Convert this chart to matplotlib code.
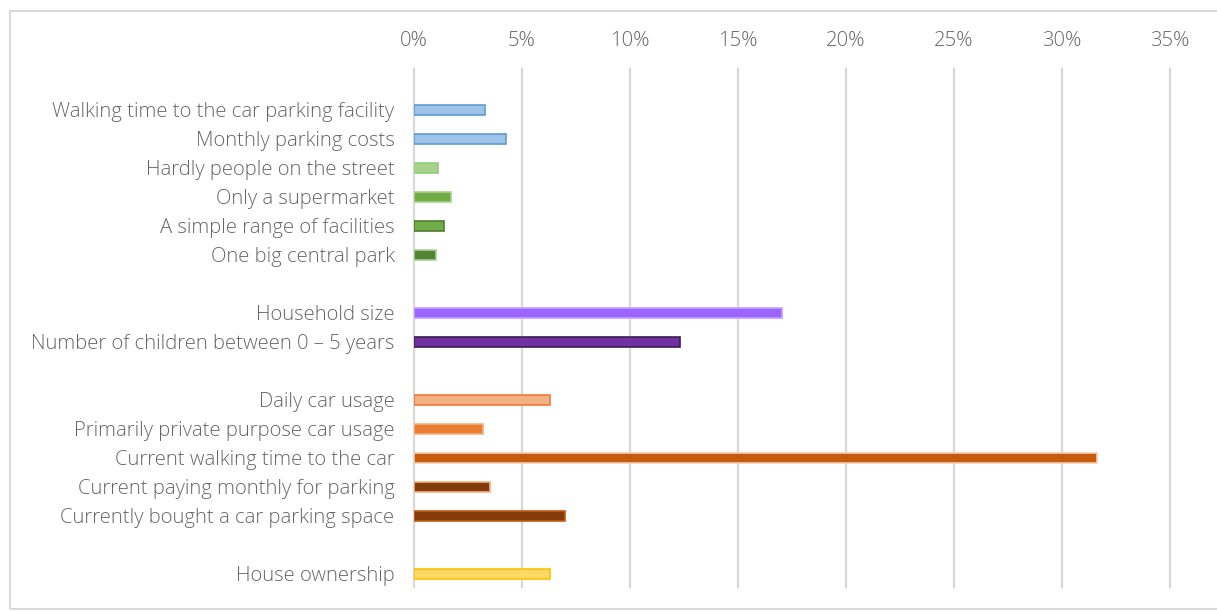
import matplotlib
matplotlib.use("Agg")
from matplotlib import pyplot as plt
from matplotlib.patches import Rectangle
from matplotlib.ticker import FuncFormatter

# rows top to bottom, "" = blank spacer row
labels = ["Walking time to the car parking facility", "Monthly parking costs",
          "Hardly people on the street", "Only a supermarket",
          "A simple range of facilities", "One big central park", "",
          "Household size", "Number of children between 0 \u2013 5 years", "",
          "Daily car usage", "Primarily private purpose car usage",
          "Current walking time to the car", "Current paying monthly for parking",
          "Currently bought a car parking space", "", "House ownership"]
values = [3.3, 4.25, 1.1, 1.7, 1.4, 1.0, None,
          17.05, 12.3, None,
          6.3, 3.2, 31.6, 3.5, 7.0, None, 6.3]
fills = ["#9dc3e6", "#9dc3e6", "#a9d18e", "#70ad47", "#70ad47", "#548235", None,
         "#9966ff", "#7030a0", None,
         "#f4b183", "#ed7d31", "#c55a11", "#843c0c", "#843c0c", None, "#ffd966"]
edges = ["#5b9bd5", "#5b9bd5", "#8fd07a", "#a9d18e", "#507e32", "#a9d18e", None,
         "#cc99ff", "#3b1f4f", None,
         "#ed7d31", "#f4b183", "#f8cbad", "#f4b183", "#c55a11", None, "#ffc000"]

fig = plt.figure(figsize=(12.17, 6.11), dpi=100)
ax = fig.add_axes([414 / 1217, 1 - 587 / 611, (1170 - 414) / 1217, (587 - 69) / 611])

for i, (v, fc, ec) in enumerate(zip(values, fills, edges)):
    if v is None:
        continue
    ax.barh(i, v, height=0.37, color=fc, edgecolor=ec, linewidth=1.2, zorder=3)

ax.set_yticks(range(len(labels)))
ax.set_yticklabels(labels)
ax.set_ylim(16.45, -1.41)
ax.set_xlim(0, 35)
ax.set_xticks(range(0, 36, 5))
ax.xaxis.set_major_formatter(FuncFormatter(lambda x, p: f"{x:.0f}%"))
ax.xaxis.tick_top()
ax.grid(axis="x", color="#d9d9d9", linewidth=1.6, zorder=0)
for gl in ax.get_xgridlines():
    gl.set_clip_on(False)
ax.tick_params(axis="both", length=0, labelsize=14.6, labelcolor="#666666")
for t in ax.get_xticklabels() + ax.get_yticklabels():
    t.set_fontfamily("Open Sans")
    t.set_fontweight("light")
ax.tick_params(axis="y", pad=14)
ax.tick_params(axis="x", pad=13)
for s in ax.spines.values():
    s.set_visible(False)

fig.patches.append(Rectangle((10 / 1217, 1 - 609 / 611), 1.2, (609 - 11) / 611,
                             transform=fig.transFigure, fill=False,
                             edgecolor="#d9d9d9", linewidth=1.5))

fig.savefig("out.png", dpi=100)
